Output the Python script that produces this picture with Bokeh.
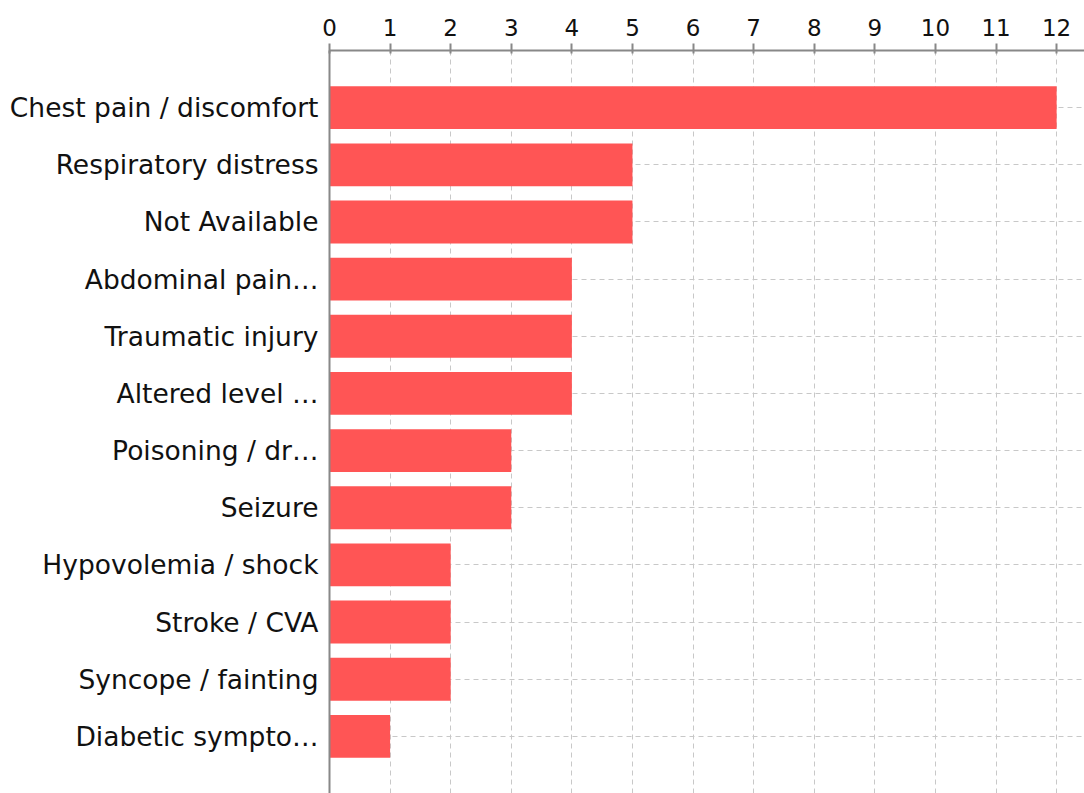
from bokeh.plotting import figure
from bokeh.models import FactorRange, Range1d, SingleIntervalTicker
from bokeh.embed import file_html
from bokeh.resources import INLINE

categories = [
    "Chest pain / discomfort",
    "Respiratory distress",
    "Not Available",
    "Abdominal pain…",
    "Traumatic injury",
    "Altered level …",
    "Poisoning / dr…",
    "Seizure",
    "Hypovolemia / shock",
    "Stroke / CVA",
    "Syncope / fainting",
    "Diabetic sympto…",
]
counts = [12, 5, 5, 4, 4, 4, 3, 3, 2, 2, 2, 1]

FONT = "DejaVu Sans"

p = figure(
    width=1084, height=793,
    y_range=FactorRange(factors=list(reversed(categories)), range_padding=0.5,
                        range_padding_units="absolute"),
    x_range=Range1d(0, 12.46),
    x_axis_location="above",
    output_backend="svg", toolbar_location=None,
    min_border_left=329, min_border_top=50, min_border_right=0, min_border_bottom=0,
)
p.outline_line_color = None
p.background_fill_color = "white"

p.hbar(y=categories, right=counts, left=0, height=0.75,
       fill_color="#FF5555", line_color=None)

xa = p.xaxis[0]
xa.ticker = SingleIntervalTicker(interval=1)
xa.axis_line_color = "#888888"
xa.axis_line_width = 2
xa.major_tick_line_color = "#888888"
xa.major_tick_line_width = 2
xa.major_tick_out = 7
xa.major_tick_in = 3
xa.minor_tick_line_color = None
xa.major_label_text_font = FONT
xa.major_label_text_font_size = "23px"
xa.major_label_text_color = "#111111"
xa.major_label_standoff = 8

ya = p.yaxis[0]
ya.axis_line_color = "#888888"
ya.axis_line_width = 2
ya.major_tick_line_color = None
ya.minor_tick_line_color = None
ya.major_label_text_font = FONT
ya.major_label_text_font_size = "26.5px"
ya.major_label_text_color = "#111111"
ya.major_label_standoff = 5

p.xgrid.grid_line_color = "#c8c8c8"
p.xgrid.grid_line_dash = "5 4"
p.ygrid.grid_line_color = "#c8c8c8"
p.ygrid.grid_line_dash = "5 4"

open("out.html", "w").write(file_html(p, INLINE))
